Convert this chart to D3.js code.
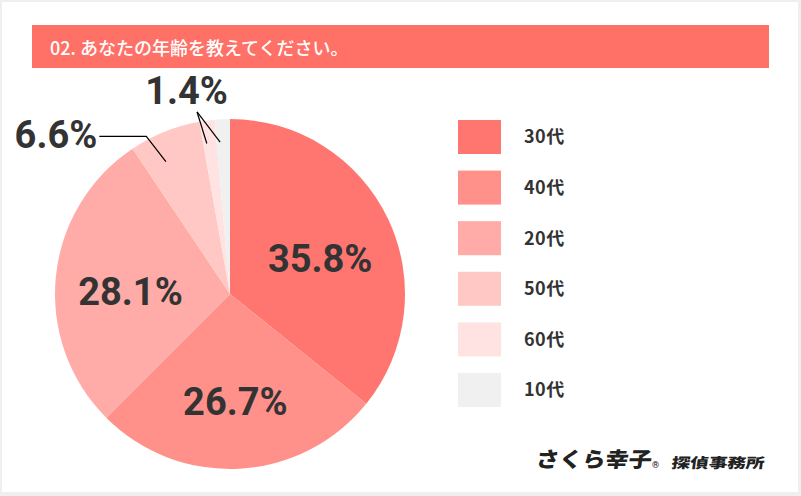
<!DOCTYPE html>
<html><head><meta charset="utf-8">
<script src="https://cdn.jsdelivr.net/npm/d3@7"></script>
<style>
html,body{margin:0;padding:0;background:#fff;}
svg{display:block;}
</style></head>
<body>
<svg id="chart" width="801" height="496"></svg>
<script>
const title = "02. あなたの年齢を教えてください。";
const categories = ["30代", "40代", "20代", "50代", "60代", "10代"];
const values = [35.8, 26.7, 28.1, 6.6, 1.4, 1.4];
const colors = ["#FF7670", "#FF908A", "#FFABA7", "#FFC8C5", "#FFE3E2", "#F0F0F0"];
const valueLabels = ["35.8%", "26.7%", "28.1%", "6.6%", "1.4%", ""];

const W = 801, H = 496;
const svg = d3.select("#chart");
const FONT = "Roboto, 'Noto Sans CJK JP', sans-serif";
const JFONT = "'Noto Sans CJK JP', sans-serif";

// card
svg.append("rect").attr("x", 0).attr("y", 0).attr("width", W).attr("height", H).attr("fill", "#efefef");
svg.append("rect").attr("x", 2).attr("y", 2).attr("width", 796).attr("height", 490).attr("fill", "#fff");

// title bar
svg.append("rect").attr("x", 32).attr("y", 25).attr("width", 737).attr("height", 43).attr("fill", "#FF7066");
svg.append("text").attr("x", 50).attr("y", 54.5).attr("fill", "#fff")
  .attr("font-family", JFONT).attr("font-size", 18).attr("font-weight", 500)
  .text(title);

// pie
const cx = 230, cy = 294, R = 175;
const g = svg.append("g").attr("transform", `translate(${cx},${cy})`);
const pie = d3.pie().sort(null).value(d => d)(values);
const arc = d3.arc().innerRadius(0).outerRadius(R);
const color = d3.scaleOrdinal().domain(categories).range(colors);

g.selectAll("path").data(pie).join("path")
  .attr("d", arc)
  .attr("fill", (d, i) => color(categories[i]));

const polar = (r, a) => [r * Math.sin(a), -r * Math.cos(a)];
const mid = d => (d.startAngle + d.endAngle) / 2;
const deg = Math.PI / 180;

// inside labels
const labelR = 100;
pie.forEach((d, i) => {
  if (values[i] < 10) return;
  const [x, y] = polar(labelR, mid(d));
  g.append("text").attr("x", x).attr("y", y + 7).attr("dy", "0.36em")
    .attr("text-anchor", "middle").attr("fill", "#333")
    .attr("font-family", FONT).attr("font-size", 38).attr("font-weight", 700)
    .text(valueLabels[i]);
});

// 6.6% outside label
{
  const d = pie[3];
  const s = polar(0.84 * R, mid(d) - 3.9 * deg);
  const e = polar(1.02 * R, mid(d) - 6 * deg);
  const hx = e[0] - 47;
  g.append("path").attr("d", d3.line()([s, e, [hx, e[1]]]))
    .attr("fill", "none").attr("stroke", "#000").attr("stroke-width", 1.2);
  g.append("text").attr("x", hx - 2).attr("y", e[1] + 12)
    .attr("text-anchor", "end").attr("fill", "#333")
    .attr("font-family", FONT).attr("font-size", 38).attr("font-weight", 700)
    .text(valueLabels[3]);
}
// 1.4% outside label (shared by 60代 and 10代)
{
  const j = polar(1.057 * R, mid(pie[4]) - 2.7 * deg);
  [pie[4], pie[5]].forEach(d => {
    const s = polar(0.87 * R, mid(d) - 1.2 * deg);
    g.append("path").attr("d", d3.line()([j, s]))
      .attr("fill", "none").attr("stroke", "#000").attr("stroke-width", 1.2);
  });
  g.append("text").attr("x", j[0] - 10.5).attr("y", j[1] - 8)
    .attr("text-anchor", "middle").attr("fill", "#333")
    .attr("font-family", FONT).attr("font-size", 38).attr("font-weight", 700)
    .text(valueLabels[4]);
}

// legend
const ly = d3.scalePoint().domain(categories).range([120, 373]);
const leg = svg.append("g").selectAll("g").data(categories).join("g")
  .attr("transform", d => `translate(458,${ly(d)})`);
leg.append("rect").attr("width", 43).attr("height", 34)
  .attr("fill", d => color(d));
leg.append("text").attr("x", 66).attr("y", 17).attr("dy", "0.36em")
  .attr("fill", "#333").attr("font-family", JFONT).attr("font-size", 18).attr("font-weight", 700)
  .attr("letter-spacing", 0.5)
  .text(d => d);

// logo
const logo = svg.append("g").attr("fill", "#222");
logo.append("text").attr("x", 535).attr("y", 467)
  .attr("transform", "skewX(-8)").attr("dx", 467 * Math.tan(8 * deg))
  .attr("font-family", JFONT).attr("font-size", 21).attr("font-weight", 900)
  .attr("textLength", 116).attr("lengthAdjust", "spacingAndGlyphs")
  .text("さくら幸子");
logo.append("text").attr("x", 652).attr("y", 468)
  .attr("font-family", FONT).attr("font-size", 9).attr("font-weight", 700)
  .text("®");
logo.append("text").attr("x", 671).attr("y", 468)
  .attr("transform", "skewX(-8)").attr("dx", 468 * Math.tan(8 * deg))
  .attr("font-family", JFONT).attr("font-size", 14).attr("font-weight", 900)
  .attr("textLength", 93).attr("lengthAdjust", "spacingAndGlyphs")
  .text("探偵事務所");
</script>
</body></html>
